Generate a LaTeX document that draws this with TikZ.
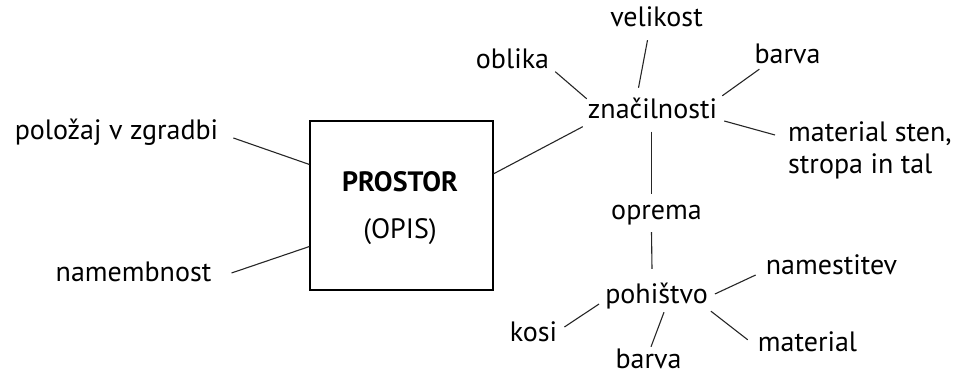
\documentclass[tikz,border=0pt]{standalone}
\usepackage{fontspec}
\setmainfont{PT Sans}
\usetikzlibrary{calc}
\begin{document}
\begin{tikzpicture}[x=1pt,y=-1pt,
  lbl/.style={inner sep=0pt,font=\fontsize{28}{32}\selectfont,text height=18pt,text depth=5pt,anchor=center},
  conn/.style={line width=1.1pt,black!85}]
\useasboundingbox (0,0) rectangle (959,379);
% main box
\node[draw,line width=1.3pt,minimum width=183pt,minimum height=169pt,inner sep=0pt] (box) at (401.5,205.5) {};
\node[lbl,font=\fontsize{28}{32}\selectfont\bfseries] (pr) at (400,185) {PROSTOR};
\node[lbl] (op) at (400,232) {(OPIS)};
% left
\node[lbl] (pol) at (116.5,133) {položaj v zgradbi};
\node[lbl] (nam) at (133.5,275) {namembnost};
% characteristics
\node[lbl] (zn) at (652.5,112) {značilnosti};
\node[lbl] (obl) at (512.5,62) {oblika};
\node[lbl] (vel) at (656.5,20) {velikost};
\node[lbl] (bar) at (787.5,57) {barva};
\node[lbl,anchor=west] (matA) at (788,135) {material sten,};
\node[lbl,anchor=west] (matB) at (788,167) {stropa in tal};
% equipment
\node[lbl] (opr) at (656.5,213) {oprema};
\node[lbl] (poh) at (656.5,297) {pohištvo};
\node[lbl] (nst) at (831.5,268) {namestitev};
\node[lbl] (mtl) at (807.5,345) {material};
\node[lbl] (kos) at (533.5,335) {kosi};
\node[lbl] (bar2) at (648.5,362) {barva};
% connectors
\draw[conn] ($(pol.east)+(15,5)$) -- (box.156);
\draw[conn] ($(nam.east)+(20,-2)$) -- (box.204);
\draw[conn] (box.19) -- ($(zn.south west)+(-5,3)$);
\draw[conn] ($(obl.south east)+(6,-2)$) -- ($(zn.north west)+(-1,-1.5)$);
\draw[conn] ($(vel.south)+(-9,8.5)$) -- ($(zn.north)+(-14,-12.5)$);
\draw[conn] ($(bar.south west)+(5,0.5)$) -- ($(zn.north east)+(5,-4.5)$);
\draw[conn] ($(zn.east)+(7,9)$) -- ($(matA.west)+(-13,0)$);
\draw[conn] ($(zn.south)+(-1,8)$) -- ($(opr.north)+(-5,-7)$);
\draw[conn] ($(opr.south)+(-5,7.5)$) -- ($(poh.north)+(-4.5,-16.5)$);
\draw[conn] ($(poh.east)+(7,-3)$) -- ($(nst.west)+(-10,7)$);
\draw[conn] ($(poh.south east)+(3,2.5)$) -- ($(mtl.north west)+(-10,6.5)$);
\draw[conn] ($(poh.west)+(-6,7)$) -- ($(kos.east)+(7,-8)$);
\draw[conn] ($(poh.south)+(7.5,3.5)$) -- ($(bar2.north)+(2.5,-3.5)$);
\end{tikzpicture}
\end{document}
